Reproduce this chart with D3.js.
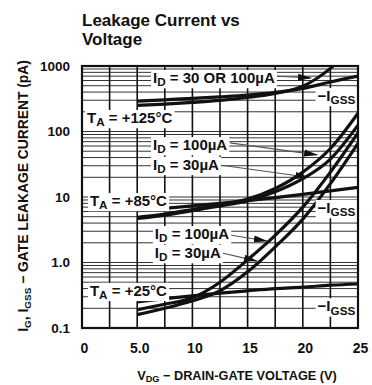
<!DOCTYPE html>
<html><head><meta charset="utf-8">
<script src="https://cdn.jsdelivr.net/npm/d3@7"></script>
<style>
body{margin:0;background:#fff}
text{font-family:"Liberation Sans",Arial,sans-serif;font-weight:bold;fill:#111}
</style>
</head><body>
<svg id="c" width="372" height="385"></svg>
<script>
// ---- data ----
const voltages = [5, 7.5, 10, 12.5, 15, 17.5, 20, 22.5, 25];
const id125   = [250, 262, 278, 298, 330, 380, 490, 920, 2400];
const igss125 = [290, 305, 320, 338, 360, 395, 455, 570, 700];
const igss85  = [6.2, 6.7, 7.3, 8.0, 8.8, 9.8, 11, 12.4, 14];
const id85_100 = [4.9, 5.5, 6.4, 7.6, 9.3, 13.5, 24, 55, 190];
const id85_30  = [4.7, 5.3, 6.2, 7.3, 8.8, 12, 19, 38, 125];
const igss25  = [0.25, 0.28, 0.31, 0.34, 0.37, 0.40, 0.42, 0.45, 0.47];
const id25_100 = [0.19, 0.23, 0.29, 0.5, 1.1, 2.6, 7, 24, 95];
const id25_30  = [0.16, 0.2, 0.26, 0.37, 0.72, 1.73, 4.6, 16, 66];

const xTicks = [0, 5, 10, 15, 20, 25];
const xTickLabels = ["0", "5.0", "10", "15", "20", "25"];
const yTicks = [0.1, 1, 10, 100, 1000];
const yTickLabels = ["0.1", "1.0", "10", "100", "1000"];
const xGrid = [0, 2.5, 5, 7.5, 10, 12.5, 15, 17.5, 20, 22.5, 25];
const decades = [0.1, 1, 10, 100];
const minorSteps = [1, 2, 3, 4, 5, 6, 7, 8, 9];

const titleLines = ["Leakage Current vs", "Voltage"];
const xTitle = [["V", ""], ["DG", "sub"], [" \u2212 DRAIN-GATE VOLTAGE (V)", ""]];
const yTitle = [["I", ""], ["G", "sub"], [", I", ""], ["GSS", "sub"], [" \u2212 GATE LEAKAGE CURRENT (pA)", ""]];

// labels anchored in data coordinates [V, pA]
const labels = [
  {at: [0.45, 135], anchor: "start", parts: [["T", ""], ["A", "sub"], [" = +125\u00B0C", ""]]},
  {at: [0.72, 7.3], anchor: "start", parts: [["T", ""], ["A", "sub"], [" = +85\u00B0C", ""]]},
  {at: [0.72, 0.31], anchor: "start", parts: [["T", ""], ["A", "sub"], [" = +25\u00B0C", ""]]},
  {at: [6.43, 550], anchor: "start", parts: [["I", ""], ["D", "sub"], [" = 30 OR 100\u00B5A", ""]]},
  {at: [6.43, 52], anchor: "start", parts: [["I", ""], ["D", "sub"], [" = 100\u00B5A", ""]]},
  {at: [6.43, 26], anchor: "start", parts: [["I", ""], ["D", "sub"], [" = 30\u00B5A", ""]]},
  {at: [6.6, 2.28], anchor: "start", parts: [["I", ""], ["D", "sub"], [" = 100\u00B5A", ""]]},
  {at: [6.6, 1.17], anchor: "start", parts: [["I", ""], ["D", "sub"], [" = 30\u00B5A", ""]]},
  {at: [24.75, 292], anchor: "end", parts: [["\u2212I", ""], ["GSS", "sub"]]},
  {at: [24.75, 5.7], anchor: "end", parts: [["\u2212I", ""], ["GSS", "sub"]]},
  {at: [24.75, 0.18], anchor: "end", parts: [["\u2212I", ""], ["GSS", "sub"]]}
];
// arrows [fromV, fromI, toV, toI]
const arrows = [
  [17.2, 703, 20.75, 656],
  [13.4, 67, 21.3, 44],
  [12.3, 31, 20.5, 20],
  [13.4, 2.63, 16.75, 2.13],
  [12.7, 1.40, 15.85, 1.05]
];

// ---- drawing ----
const svg = d3.select("#c");
const L = 82, R = 358, T = 66, B = 328;
const x = d3.scaleLinear().domain([0, 25]).range([L, R]);
const y = d3.scaleLog().domain([0.1, 1000]).range([B, T]);

const defs = svg.append("defs");
defs.append("clipPath").attr("id", "plot").append("rect")
  .attr("x", L).attr("y", T).attr("width", R - L).attr("height", B - T);
defs.append("marker").attr("id", "ah").attr("viewBox", "0 0 14 8")
  .attr("refX", 13).attr("refY", 4).attr("markerWidth", 14).attr("markerHeight", 8)
  .attr("markerUnits", "userSpaceOnUse").attr("orient", "auto")
  .append("path").attr("d", "M0,0.5 L14,4 L0,7.5 Z").attr("fill", "#111");

// horizontal log grid
const hVals = [];
decades.forEach(d => minorSteps.forEach(k => hVals.push(d * k)));
hVals.push(1000);
svg.append("g").selectAll("line").data(hVals).join("line")
  .attr("x1", L).attr("x2", R)
  .attr("y1", d => y(d)).attr("y2", d => y(d))
  .attr("stroke", "#333").attr("stroke-width", 1);
// vertical grid
svg.append("g").selectAll("line").data(xGrid).join("line")
  .attr("x1", d => x(d)).attr("x2", d => x(d))
  .attr("y1", T).attr("y2", B)
  .attr("stroke", "#111").attr("stroke-width", 1.6);

// label layer (backgrounds first)
const labelG = svg.append("g");
function addParts(t, parts, fs, subScale) {
  let shifted = false;
  parts.forEach(([s, kind]) => {
    const ts = t.append("tspan").text(s);
    if (kind === "sub") {
      ts.attr("font-size", fs * subScale).attr("dy", shifted ? 0 : fs * 0.22);
      shifted = true;
    } else {
      if (shifted) ts.attr("dy", -fs * 0.22);
      shifted = false;
    }
  });
}
const labelFs = 15;
labels.forEach(lb => {
  const g = labelG.append("g");
  const t = g.append("text")
    .attr("x", x(lb.at[0])).attr("y", y(lb.at[1]))
    .attr("text-anchor", lb.anchor)
    .attr("font-size", labelFs)
    .style("font-family", "'Liberation Sans Narrow','Liberation Sans',Arial,sans-serif");
  addParts(t, lb.parts, labelFs, 0.78);
  const bb = t.node().getBBox();
  g.insert("rect", "text")
    .attr("x", bb.x - 2).attr("y", bb.y + 1)
    .attr("width", bb.width + 4).attr("height", bb.height - 1)
    .attr("fill", "#fff");
});

// arrows
svg.append("g").selectAll("line").data(arrows).join("line")
  .attr("x1", d => x(d[0])).attr("y1", d => y(d[1]))
  .attr("x2", d => x(d[2])).attr("y2", d => y(d[3]))
  .attr("stroke", "#555").attr("stroke-width", 1.1)
  .attr("marker-end", "url(#ah)");

// curves
const series = [id125, igss125, igss85, id85_100, id85_30, igss25, id25_100, id25_30];
const line = d3.line()
  .x((d, i) => x(voltages[i]))
  .y(d => y(d))
  .curve(d3.curveMonotoneX);
svg.append("g").attr("clip-path", "url(#plot)")
  .selectAll("path").data(series).join("path")
  .attr("d", line)
  .attr("fill", "none").attr("stroke", "#111")
  .attr("stroke-width", 3.2).attr("stroke-linejoin", "round");

// bring label text to front
labelG.raise();

// frame
svg.append("rect").attr("x", L).attr("y", T).attr("width", R - L).attr("height", B - T)
  .attr("fill", "none").attr("stroke", "#111").attr("stroke-width", 2.2);

// axes
const xAxis = svg.append("g").attr("transform", `translate(0,${B})`)
  .call(d3.axisBottom(x).tickValues(xTicks).tickSize(0).tickPadding(15)
    .tickFormat((d, i) => xTickLabels[i]));
xAxis.select(".domain").remove();
xAxis.selectAll("text").attr("font-size", 14).attr("dx", 2)
  .style("font-family", "'Liberation Sans',Arial,sans-serif").attr("fill", "#111");

const yAxis = svg.append("g").attr("transform", `translate(${L},0)`)
  .call(d3.axisLeft(y).tickValues(yTicks).tickSize(0).tickPadding(12)
    .tickFormat((d, i) => yTickLabels[i]));
yAxis.select(".domain").remove();
yAxis.selectAll("text").attr("font-size", 13.5)
  .style("font-family", "'Liberation Sans',Arial,sans-serif").attr("fill", "#111");

// title
svg.append("g").selectAll("text").data(titleLines).join("text")
  .attr("x", L).attr("y", (d, i) => 26 + i * 19)
  .attr("font-size", 17).text(d => d);

// axis titles (scaled to the reference length)
function fitTitle(t, target) {
  const len = t.node().getComputedTextLength();
  const fs = +t.attr("font-size");
  const nfs = fs * target / len;
  t.attr("font-size", nfs);
  t.selectAll("tspan").each(function () {
    const s = d3.select(this);
    if (s.attr("font-size")) s.attr("font-size", nfs * 0.72);
    if (s.attr("dy")) s.attr("dy", Math.sign(+s.attr("dy")) * nfs * 0.18);
  });
}
const xt = svg.append("text").attr("x", 237).attr("y", 380)
  .attr("text-anchor", "middle").attr("font-size", 14)
  .style("font-family", "'Liberation Sans Narrow','Liberation Sans',Arial,sans-serif");
addParts(xt, xTitle, 14, 0.72);
fitTitle(xt, 200);

const yt = svg.append("text").attr("transform", "translate(28,196) rotate(-90)")
  .attr("text-anchor", "middle").attr("font-size", 14)
  .style("font-family", "'Liberation Sans Narrow','Liberation Sans',Arial,sans-serif");
addParts(yt, yTitle, 14, 0.72);
fitTitle(yt, 272);
</script>
</body></html>
